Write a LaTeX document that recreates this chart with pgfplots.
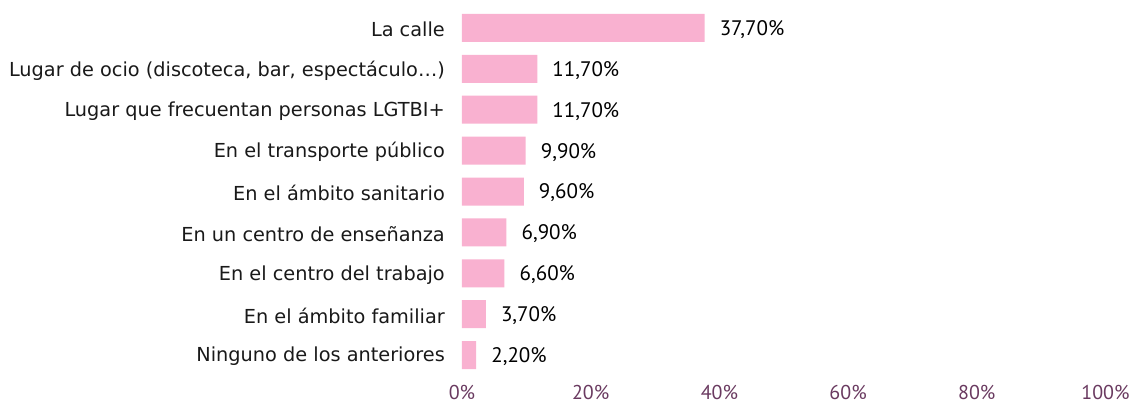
\documentclass[border=0pt]{standalone}
\usepackage{pgfplots}
\pgfplotsset{compat=1.18}
\usepackage{fontspec}
\setmainfont{DejaVu Sans}
\newfontfamily\tickfont{PT Sans}
\definecolor{barpink}{HTML}{F9B1D0}
\definecolor{tickpurple}{HTML}{6A3A60}
\begin{document}
\begin{tikzpicture}
\useasboundingbox (-462pt,-36.5pt) rectangle (668pt,375.5pt);
\begin{axis}[
  at={(0pt,0pt)}, anchor=south west,
  scale only axis, width=643.5pt, height=368pt,
  xbar, bar width=28pt,
  xmin=0, xmax=100, ymin=-0.5, ymax=8.5, y dir=reverse,
  /pgf/number format/assume math mode=true,
  ytick={0,1,2,3,4,5,6,7,8},
  yticklabels={La calle, Lugar de ocio (discoteca{,} bar{,} espectáculo…), Lugar que frecuentan personas LGTBI+, En el transporte público, En el ámbito sanitario, En un centro de enseñanza, En el centro del trabajo, En el ámbito familiar, Ninguno de los anteriores},
  xtick={0,20,40,60,80,100},
  xticklabel={\tickfont\pgfmathprintnumber{\tick}\%},
  axis line style={draw=none}, major tick length=0pt,
  yticklabel style={font=\fontsize{19.3}{22}\selectfont, text=black!90, inner sep=0pt, xshift=-17pt, yshift=-1.5pt},
  xticklabel style={font=\tickfont\fontsize{20}{22}\selectfont, text=tickpurple, inner sep=0pt, anchor=center, yshift=-16.5pt},
  nodes near coords={\pgfmathprintnumber[fixed, fixed zerofill, precision=2, use comma]{\pgfplotspointmeta}\%},
  nodes near coords align={horizontal},
  every node near coord/.append style={font=\tickfont\fontsize{21}{23}\selectfont, text=black, anchor=west, inner sep=0pt, xshift=15pt, yshift=-1.5pt},
]
\addplot[fill=barpink, draw=none] coordinates {
(37.7,0) (11.7,1) (11.7,2) (9.9,3) (9.6,4) (6.9,5) (6.6,6) (3.7,7) (2.2,8)};
\end{axis}
\end{tikzpicture}
\end{document}
